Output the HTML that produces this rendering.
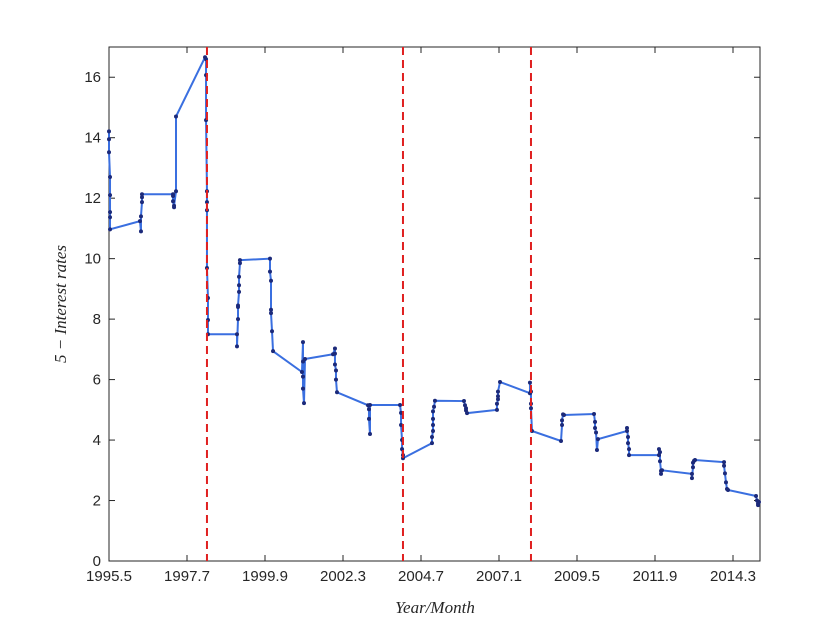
<!DOCTYPE html>
<html><head><meta charset="utf-8"><style>
body{margin:0;background:#fff}
svg{display:block;font-family:"Liberation Sans",sans-serif}
</style></head><body>
<svg id="chart" width="840" height="630"></svg>
<script>
const tickLabels=["1995.5","1997.7","1999.9","2002.3","2004.7","2007.1","2009.5","2011.9","2014.3"];
const yTicks=[0,2,4,6,8,10,12,14,16];
const breakX=[1.256,3.769,5.41];
const xs=[0,0,0,0.013,0.013,0.013,0.013,0.013,
0.397,0.41,0.41,0.423,0.423,0.423,
0.821,0.821,0.821,0.834,0.834,0.859,0.859,
1.231,1.244,1.244,1.244,1.256,1.256,1.256,1.256,1.269,1.269,1.269,
1.641,1.641,1.654,1.654,1.654,1.667,1.667,1.667,1.679,1.679,
2.064,2.064,2.077,2.077,2.077,2.09,2.103,
2.474,2.487,2.487,2.487,2.487,2.5,2.513,
2.872,2.897,2.897,2.897,2.91,2.91,2.923,
3.321,3.333,3.333,3.346,3.346,
3.731,3.744,3.744,3.757,3.757,3.769,3.769,
4.141,4.141,4.154,4.154,4.154,4.154,4.167,4.179,
4.551,4.564,4.577,4.577,4.59,
4.974,4.974,4.987,4.987,4.987,5.013,
5.397,5.397,5.41,5.41,5.41,5.423,
5.795,5.808,5.808,5.821,5.833,
6.218,6.231,6.231,6.244,6.256,6.269,
6.641,6.641,6.654,6.654,6.667,6.667,
7.051,7.051,7.064,7.064,7.077,7.077,7.09,
7.474,7.474,7.487,7.487,7.5,7.513,
7.885,7.885,7.897,7.91,7.923,7.936,
8.295,8.308,8.321,8.321,8.333];
const ys=[14.21,13.95,13.52,12.7,12.1,11.54,11.37,10.97,
11.24,10.9,11.4,11.87,12.03,12.13,
12.13,12.07,11.9,11.7,11.75,12.23,14.7,
16.66,16.6,16.07,14.58,12.23,11.87,11.6,9.69,8.7,7.97,7.5,
7.5,7.1,8.0,8.4,8.45,8.9,9.12,9.4,9.85,9.95,
10.0,9.57,9.27,8.31,8.2,7.6,6.94,
6.25,7.24,6.6,6.1,5.7,5.22,6.68,
6.84,7.03,6.86,6.5,6.3,6.0,5.58,
5.15,5.02,4.7,4.2,5.16,
5.16,4.9,4.5,4.0,3.7,3.5,3.4,
3.9,4.1,4.3,4.5,4.7,4.95,5.1,5.3,
5.29,5.15,5.05,4.98,4.89,
5.0,5.2,5.35,5.45,5.6,5.92,
5.55,5.9,5.6,5.2,5.05,4.3,
3.97,4.5,4.65,4.85,4.83,
4.86,4.6,4.4,4.25,3.67,4.03,
4.3,4.4,4.1,3.9,3.7,3.5,
3.5,3.7,3.6,3.3,2.98,2.88,3.0,
2.88,2.74,3.1,3.25,3.31,3.34,
3.27,3.15,2.9,2.6,2.38,2.35,
2.15,2.0,1.9,1.85,1.95];
const L=109,R=760,T=47,B=561,XMAX=(760-109)/78,YMAX=17;
const sx=v=>L+v/XMAX*(R-L), sy=v=>B-v/YMAX*(B-T);
const svg=document.getElementById('chart'),NS='http://www.w3.org/2000/svg';
function mk(t,a,txt){const e=document.createElementNS(NS,t);for(const k in a)e.setAttribute(k,a[k]);if(txt!==undefined)e.textContent=txt;svg.appendChild(e);return e;}
const bg=mk('rect',{x:L,y:T,width:R-L,height:B-T,fill:'#fff',stroke:'#262626','stroke-width':1});


tickLabels.forEach((lab,i)=>{const x=sx(i);
 const t=mk('line',{x1:x,x2:x,y1:B,y2:B-6,stroke:'#262626'});
 
 
 const t2=mk('line',{x1:x,x2:x,y1:T,y2:T+6,stroke:'#262626'});
 
 
 const tx=mk('text',{x:x,y:B+20,'text-anchor':'middle','font-size':15,fill:'#262626'},lab);
 
 });
yTicks.forEach(v=>{const y=sy(v);
 const t=mk('line',{x1:L,x2:L+6,y1:y,y2:y,stroke:'#262626'});
 
 
 const t2=mk('line',{x1:R,x2:R-6,y1:y,y2:y,stroke:'#262626'});
 
 
 const tx=mk('text',{x:L-8,y:y+5,'text-anchor':'end','font-size':15,fill:'#262626'},String(v));
 
 });
const line=mk('polyline',{points:xs.map((x,i)=>sx(x)+','+sy(ys[i])).join(' '),fill:'none',stroke:'#3a6fe0','stroke-width':2});


xs.forEach((x,i)=>{const c=mk('circle',{cx:sx(x),cy:sy(ys[i]),r:2,fill:'#1c2a7a'});
 
 });
breakX.forEach(b=>{const l=mk('line',{x1:sx(b),x2:sx(b),y1:T,y2:B,stroke:'#e02020','stroke-width':2,'stroke-dasharray':'8,5'});
 
 });
const xl=mk('text',{x:435,y:613,'text-anchor':'middle','font-size':17,'font-style':'italic','font-family':'Liberation Serif,serif',fill:'#262626'},'Year/Month');


const yl=mk('text',{x:0,y:0,'text-anchor':'middle','font-size':17,'font-style':'italic','font-family':'Liberation Serif,serif',fill:'#262626',transform:'translate(66,304) rotate(-90)'},'5 − Interest rates');


</script>
</body></html>
